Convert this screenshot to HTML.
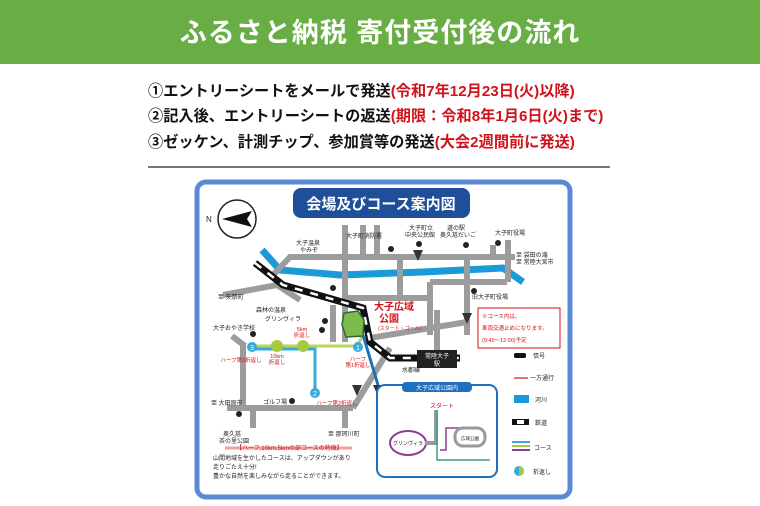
<!DOCTYPE html>
<html><head><meta charset="utf-8"><style>
html,body{margin:0;padding:0;background:#fff;width:760px;height:506px;overflow:hidden;font-family:"Liberation Sans","Noto Sans CJK JP",sans-serif}
.hd{position:absolute;left:0;top:0;width:760px;height:64px;background:#68ae45;color:#fff;font-size:27px;font-weight:bold;text-align:center;line-height:66px;letter-spacing:1px}
.ln{position:absolute;left:148px;font-size:15.2px;font-weight:bold;color:#111;white-space:nowrap}
.ln span{color:#d0121b}
.hr{position:absolute;left:148px;top:166px;width:462px;height:2px;background:#777}
svg{position:absolute;left:0;top:0}
svg text{font-family:"Liberation Sans","Noto Sans CJK JP",sans-serif}
</style></head><body>
<div class="hd">ふるさと納税 寄付受付後の流れ</div>
<div class="ln" style="top:79px">①エントリーシートをメールで発送<span>(令和7年12月23日(火)以降)</span></div>
<div class="ln" style="top:104px">②記入後、エントリーシートの返送<span>(期限：令和8年1月6日(火)まで)</span></div>
<div class="ln" style="top:130px">③ゼッケン、計測チップ、参加賞等の発送<span>(大会2週間前に発送)</span></div>
<div class="hr"></div>
<svg width="760" height="506" viewBox="0 0 760 506">
<rect x="197" y="182" width="373" height="315" rx="9" fill="#fff" stroke="#5a8ad2" stroke-width="5"/>
<rect x="293" y="188" width="177" height="30" rx="8" fill="#1f4f99"/>
<text x="381" y="209" font-size="15" font-weight="bold" fill="#fff" text-anchor="middle">会場及びコース案内図</text>
<circle cx="237" cy="219" r="19" fill="#fff" stroke="#222" stroke-width="1.5"/>
<polygon points="222,219 252,211 247,219 252,227" fill="#111"/>
<text x="206" y="222" font-size="8" fill="#222">N</text>
<polyline points="262,250 280,270 340,275 423,272 503,268 523,282" fill="none" stroke="#1a9ad6" stroke-width="7"/>
<g stroke="#9c9c9c" stroke-width="6" fill="none">
<polyline points="273,275 290,257 515,257"/>
<path d="M345 225V342M363 225V257M377 225V257M400 257V298M343 298H430M430 282H507M430 282V335M437 310V360M467 257V335M370 338L467 322M493 245V257M508 240V282M243 343V408M232 336L245 346M227 408H353M353 408L390 348M253 408V428M345 408V428M333 305V342M223 295L277 285M277 285L300 300"/>
</g>
<polyline points="252,346 357,346 363,335" fill="none" stroke="#b7d65a" stroke-width="3"/>
<polyline points="252,349 315,349 315,392" fill="none" stroke="#38a9d8" stroke-width="3"/>
<line x1="363" y1="335" x2="378" y2="385" stroke="#1f6fbf" stroke-width="3"/>
<polyline points="255,263 283,285 363,308 370,342 390,358 460,358" fill="none" stroke="#111" stroke-width="7"/>
<polyline points="255,263 283,285 363,308 370,342 390,358 460,358" fill="none" stroke="#fff" stroke-width="2.5" stroke-dasharray="8 8"/>
<rect x="417" y="350" width="40" height="18" fill="#222"/>
<text x="437" y="358" font-size="6" fill="#fff" text-anchor="middle">常陸大子</text>
<text x="437" y="366" font-size="6" fill="#fff" text-anchor="middle">駅</text>
<text x="402" y="372" font-size="6" fill="#222">水郡線</text>
<path d="M344 313 L358 311 L364 320 L363 336 L346 337 L342 325 Z" fill="#7dbb4f" stroke="#2b6b2b" stroke-width="1.5"/>
<text x="374" y="310" font-size="10" font-weight="bold" fill="#d0121b">大子広域</text>
<text x="379" y="322" font-size="10" font-weight="bold" fill="#d0121b">公園</text>
<text x="378" y="330" font-size="5" fill="#d0121b">(スタート・ゴール)</text>
<circle cx="252" cy="347" r="5" fill="#38a9d8"/><text x="252" y="350" font-size="7" fill="#fff" text-anchor="middle">3</text>
<circle cx="277" cy="346" r="6" fill="#a6c93f"/><circle cx="303" cy="346" r="6" fill="#a6c93f"/>
<circle cx="358" cy="347" r="5" fill="#38a9d8"/><text x="358" y="350" font-size="7" fill="#fff" text-anchor="middle">1</text>
<circle cx="315" cy="393" r="5" fill="#38a9d8"/><text x="315" y="396" font-size="7" fill="#fff" text-anchor="middle">2</text>
<g font-size="5.5" fill="#d0121b" text-anchor="middle">
<text x="241" y="362">ハーフ第3折返し</text><text x="277" y="358">10km</text><text x="277" y="364">折返し</text>
<text x="302" y="331">5km</text><text x="302" y="337">折返し</text><text x="358" y="361">ハーフ</text><text x="358" y="367">第1折返し</text>
<text x="337" y="405">ハーフ第2折返し</text></g>
<g font-size="6" fill="#222">
<text x="296" y="245">大子温泉</text><text x="300" y="252">やみぞ</text>
<text x="346" y="238">大子町消防署</text><text x="409" y="230">大子町立</text><text x="405" y="237">中央公民館</text>
<text x="447" y="230">道の駅</text><text x="440" y="237">奥久慈だいご</text><text x="495" y="235">大子町役場</text>
<text x="516" y="257">至 袋田の滝</text><text x="516" y="264">至 常陸大宮市</text>
<text x="218" y="299">至 矢祭町</text><text x="472" y="299">旧大子町役場</text>
<text x="256" y="312">森林の温泉</text><text x="265" y="321">グリンヴィラ</text><text x="213" y="330">大子おやき学校</text>
<text x="211" y="405">至 大田原市</text><text x="263" y="404">ゴルフ場</text>
<text x="223" y="436">奥久慈</text><text x="219" y="443">茶の里公園</text><text x="328" y="436">至 那珂川町</text>
<text x="303" y="281" fill="#fff">久慈川</text>
</g>
<g fill="#222"><circle cx="391" cy="249" r="3"/><circle cx="419" cy="244" r="3"/><circle cx="466" cy="245" r="3"/><circle cx="498" cy="243" r="3"/><circle cx="333" cy="288" r="3"/><circle cx="474" cy="291" r="3"/><circle cx="325" cy="321" r="3"/><circle cx="322" cy="330" r="3"/><circle cx="253" cy="334" r="3"/><circle cx="292" cy="401" r="3"/><circle cx="239" cy="414" r="3"/></g>
<g fill="#333"><polygon points="413,250 423,250 418,261"/><polygon points="462,313 472,313 467,324"/><polygon points="352,385 362,385 357,396"/><polygon points="373,385 383,385 378,396"/></g>
<rect x="478" y="308" width="82" height="40" fill="#fff" stroke="#d0121b" stroke-width="1"/>
<g font-size="5.5" fill="#d0121b"><text x="482" y="318">※コース内は、</text><text x="482" y="330">車両交通止めになります。</text><text x="482" y="342">(9:45～12:00)予定</text></g>
<rect x="514" y="353" width="12" height="5" rx="2" fill="#111"/><text x="533" y="358" font-size="6" fill="#222">信号</text>
<line x1="514" y1="378" x2="528" y2="378" stroke="#d0121b" stroke-width="1.2"/><text x="530" y="380" font-size="6" fill="#222">一方通行</text>
<rect x="514" y="395" width="15" height="8" fill="#1a9ad6"/><text x="535" y="402" font-size="6" fill="#222">河川</text>
<rect x="512" y="419" width="17" height="6" fill="#111"/><rect x="517" y="420" width="7" height="4" fill="#fff"/><text x="535" y="425" font-size="6" fill="#222">鉄道</text>
<rect x="512" y="441" width="18" height="2" fill="#38a9d8"/><rect x="512" y="445" width="18" height="2" fill="#a6c93f"/><rect x="512" y="449" width="18" height="2" fill="#8d3e94"/><text x="534" y="450" font-size="6" fill="#222">コース</text>
<circle cx="519" cy="471" r="5" fill="#38a9d8"/><path d="M519 466 A5 5 0 0 1 519 476 Z" fill="#a6c93f"/><text x="533" y="474" font-size="6" fill="#222">折返し</text>
<rect x="377" y="385" width="120" height="92" rx="8" fill="#fff" stroke="#1f6fbf" stroke-width="2"/>
<rect x="402" y="382" width="70" height="10" rx="4" fill="#1f6fbf"/><text x="437" y="390" font-size="6" fill="#fff" text-anchor="middle">大子広域公園内</text>
<text x="430" y="408" font-size="6" fill="#d0121b">スタート</text>
<ellipse cx="408" cy="443" rx="18" ry="12" fill="none" stroke="#8d3e94" stroke-width="2"/>
<text x="408" y="445" font-size="5" fill="#222" text-anchor="middle">グリンヴィラ</text>
<polyline points="425,443 436,443 436,410" fill="none" stroke="#999" stroke-width="4"/>
<polyline points="437,410 437,460 490,460" fill="none" stroke="#38a08a" stroke-width="1.5"/>
<polyline points="440,450 446,450 446,428 465,428" fill="none" stroke="#8d3e94" stroke-width="1.5"/>
<rect x="455" y="428" width="30" height="18" rx="8" fill="none" stroke="#999" stroke-width="3"/>
<text x="470" y="440" font-size="4.5" fill="#222" text-anchor="middle">広域公園</text>
<line x1="225" y1="448" x2="352" y2="448" stroke="#f2a0a0" stroke-width="3"/>
<text x="236" y="450" font-size="6" fill="#d0121b">【ハーフ,10km,5kmの部コースの特徴】</text>
<g font-size="6" fill="#222"><text x="213" y="460">山間地域を生かしたコースは、アップダウンがあり</text><text x="213" y="469">走りごたえ十分!</text><text x="213" y="478">豊かな自然を楽しみながら走ることができます。</text></g>
</svg>
</body></html>
